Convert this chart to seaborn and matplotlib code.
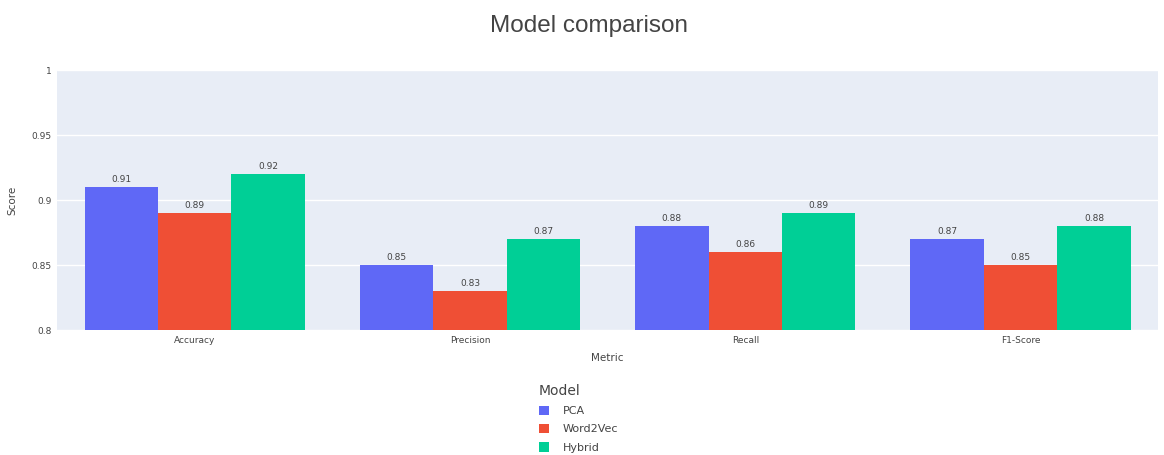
import matplotlib
matplotlib.use("Agg")
import matplotlib.pyplot as plt
import seaborn as sns
import pandas as pd

metrics = ["Accuracy", "Precision", "Recall", "F1-Score"]
models = ["PCA", "Word2Vec", "Hybrid"]
pca_scores = [0.91, 0.85, 0.88, 0.87]
word2vec_scores = [0.89, 0.83, 0.86, 0.85]
hybrid_scores = [0.92, 0.87, 0.89, 0.88]
palette = ["#5F68F6", "#EF4F35", "#00CF96"]

df = pd.DataFrame({
    "Metric": metrics * 3,
    "Model": [m for m in models for _ in metrics],
    "Score": pca_scores + word2vec_scores + hybrid_scores,
})

sns.set_theme(style="white")
plt.rcParams["font.family"] = ["DejaVu Sans"]

fig = plt.figure(figsize=(11.64, 4.55), dpi=100)
ax = fig.add_axes([0.049, 0.2747, 0.946, 0.5714])
ax.set_facecolor("#E8EDF6")

sns.barplot(data=df, x="Metric", y="Score", hue="Model", order=metrics,
            hue_order=models, palette=palette, width=0.8, saturation=1,
            edgecolor=None, linewidth=0, ax=ax, zorder=3)

for container in ax.containers:
    ax.bar_label(container, fmt="%.2f", padding=2, fontsize=6.5, color="#444444")

ax.set_ylim(0.8, 1.0)
ax.set_yticks([0.8, 0.85, 0.9, 0.95, 1.0])
ax.set_yticklabels(["0.8", "0.85", "0.9", "0.95", "1"])
ax.yaxis.grid(True, color="white", linewidth=1, zorder=0)
ax.set_axisbelow(True)
for s in ax.spines.values():
    s.set_visible(False)
ax.tick_params(axis="both", length=0, labelsize=6.5, colors="#444444", pad=4)
ax.set_xlabel("Metric", fontsize=7.5, color="#444444", labelpad=6)
ax.set_ylabel("Score", fontsize=7.5, color="#444444", labelpad=10)

fig.suptitle("Model comparison", x=0.506, y=0.966, fontsize=17.5,
             color="#444444", family=["Liberation Sans", "DejaVu Sans"])

handles, labels = ax.get_legend_handles_labels()
ax.get_legend().remove()
leg = fig.legend(handles, labels, title="Model", loc="upper left",
                 bbox_to_anchor=(0.456, 0.174), frameon=False, fontsize=8,
                 title_fontsize=10, handlelength=0.9, handleheight=0.9,
                 labelspacing=0.72, handletextpad=1.3, alignment="left",
                 borderpad=0.2)
for t in leg.get_texts():
    t.set_color("#444444")
leg.get_title().set_color("#444444")

fig.savefig("out.png", dpi=100)
